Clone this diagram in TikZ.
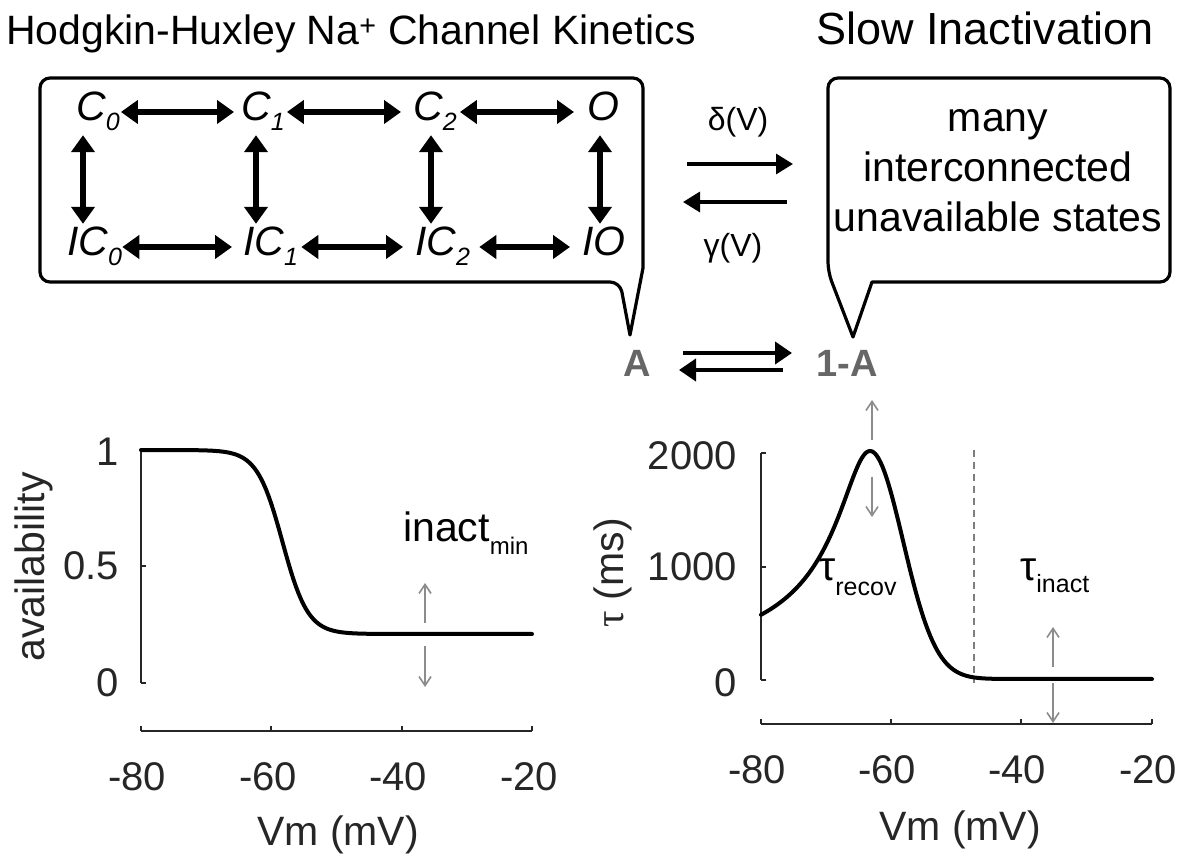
\documentclass[tikz,border=0pt]{standalone}
\usepackage{fontspec}
\setmainfont{Liberation Sans}
\newfontfamily\serifg{Liberation Serif}
\usetikzlibrary{arrows.meta}
\definecolor{axc}{HTML}{262626}
\definecolor{grayarr}{HTML}{8C8C8C}
\definecolor{Agray}{HTML}{666666}
\newcommand{\fs}[1]{\fontsize{#1}{#1}\selectfont}
\newcommand{\isub}[1]{\raisebox{-10pt}{\fs{25}#1}}
\begin{document}
\begin{tikzpicture}[x=1pt,y=-1pt,
  dbl/.style={line width=5.5pt,{Triangle[length=17pt,width=23pt]}-{Triangle[length=17pt,width=23pt]}},
  rx/.style={line width=3.3pt,-{Triangle[length=17pt,width=20pt]}},
  ax2/.style={line width=4pt,-{Triangle[length=17pt,width=22pt]}},
  st/.style={font=\fs{41}\itshape, inner sep=2pt, anchor=base west, text height=30pt, text depth=12pt},
  bubble/.style={line width=3.2pt, draw=black, line join=round},
  ax/.style={line width=1.3pt, draw=axc},
  tl/.style={font=\fs{40}, text=axc, inner sep=0pt},
  lbl/.style={font=\fs{41}, text=axc, inner sep=0pt},
  ga/.style={line width=1.6pt, draw=grayarr, -{Straight Barb[length=9pt,width=12pt]}},
  curve/.style={line width=4pt, line join=round, line cap=round}
]
\useasboundingbox (0,0) rectangle (1179,866);

% titles
\node[font=\fs{41}, anchor=base, inner sep=0pt] (t1) at (351,45) {Hodgkin-Huxley Na\textsuperscript{+} Channel Kinetics};
\node[font=\fs{45}, anchor=base, inner sep=0pt] (t2) at (985,45) {Slow Inactivation};

% bubbles
\draw[bubble] (630,335) -- (643,268) [rounded corners=10pt] -- (643,78) -- (40,78) -- (40,282) -- (620,282) [sharp corners] -- cycle;
\draw[bubble] (853,337) -- (872,282) [rounded corners=10pt] -- (1170,282) -- (1170,78) -- (828,78) -- (828,272) [sharp corners] -- cycle;

% states
\node[st] (C0) at (74,121) {C\isub{0}};
\node[st] (C1) at (239,121) {C\isub{1}};
\node[st] (C2) at (411,121) {C\isub{2}};
\node[st] (O) at (585,121) {O};
\node[st] (IC0) at (65,256) {IC\isub{0}};
\node[st] (IC1) at (241,256) {IC\isub{1}};
\node[st] (IC2) at (413,256) {IC\isub{2}};
\node[st] (IO) at (580,256) {IO};

\draw[dbl, shorten <=-1pt, shorten >=5pt] (C0) -- (C1);
\draw[dbl, shorten <=0pt, shorten >=10pt] (C1) -- (C2);
\draw[dbl, shorten <=1pt, shorten >=11pt] (C2) -- (O);
\draw[dbl, shorten <=-2pt, shorten >=9pt] (IC0) -- (IC1);
\draw[dbl, shorten <=1pt, shorten >=10pt] (IC1) -- (IC2);
\draw[dbl, shorten <=7pt, shorten >=10pt] (IC2) -- (IO);
\draw[dbl] ([xshift=9pt]C0.south west) -- ([xshift=9pt]C0.south west |- IC0.north);
\draw[dbl] ([xshift=17pt]C1.south west) -- ([xshift=17pt]C1.south west |- IC1.north);
\draw[dbl] ([xshift=20pt]C2.south west) -- ([xshift=20pt]C2.south west |- IC2.north);
\draw[dbl] ([xshift=15pt]O.south west) -- ([xshift=15pt]O.south west |- IO.north);

% slow inactivation text
\node[font=\fs{41}, anchor=base, inner sep=0pt] (m1) at (998,132) {many};
\node[font=\fs{41}, anchor=base, inner sep=0pt] (m2) at (998,182) {interconnected};
\node[font=\fs{41}, anchor=base, inner sep=0pt] (m3) at (998,232) {unavailable states};

% rates
\node[font=\fs{32}, inner sep=0pt] (dl) at (738,122) {δ(V)};
\node[font=\fs{32}, inner sep=0pt] (gl) at (733,248) {γ(V)};
\coordinate (d1) at (687,164); \coordinate (d2) at (793,164);
\coordinate (g1) at (787,202); \coordinate (g2) at (683,202);
\draw[rx] (d1) -- (d2);
\draw[rx] (g1) -- (g2);

% A <-> 1-A
\node[font=\fs{38}\bfseries, text=Agray, anchor=base, inner sep=0pt] (A) at (637,377) {A};
\node[font=\fs{38}\bfseries, text=Agray, anchor=base, inner sep=0pt] (nA) at (847,377) {1-A};
\coordinate (a1) at (683,353); \coordinate (a2) at (792,353);
\coordinate (b1) at (783,370); \coordinate (b2) at (679,370);
\draw[ax2] (a1) -- (a2);
\draw[ax2] (b1) -- (b2);

% ---------- plot 1 ----------
\draw[ax] (141,449) -- (141,683);
\foreach \yy in {449,566,683} \draw[ax] (141,\yy) -- ++(5,0);
\draw[ax] (141,731) -- (532,731);
\foreach \xx in {141,271,402,532} \draw[ax] (\xx,731) -- ++(0,-5);
\node[tl, anchor=east] (y1a) at (119,452) {1};
\node[tl, anchor=east] (y1b) at (119,566) {0.5};
\node[tl, anchor=east] (y1c) at (119,683) {0};
\node[tl, anchor=base] (x1a) at (137,790) {-80};
\node[tl, anchor=base] (x1b) at (268,790) {-60};
\node[tl, anchor=base] (x1c) at (398,790) {-40};
\node[tl, anchor=base] (x1d) at (529,790) {-20};
\node[lbl, anchor=base] (xl1) at (338,845) {Vm (mV)};
\node[lbl, rotate=90] (yl1) at (34,567) {availability};
\draw[curve] plot[domain=141:532, samples=160] (\x, {634-184/(1+exp(max(-9,min(9,(\x-282.5)/12.7))))});
\node[font=\fs{41}, anchor=base west, inner sep=0pt] (inm) at (403,542) {inact\raisebox{-13pt}{\fs{24}min}};
\coordinate (p1a) at (425,623); \coordinate (p1b) at (425,583);
\coordinate (p1c) at (425,646); \coordinate (p1d) at (425,687);
\draw[ga] (p1a) -- (p1b);
\draw[ga] (p1c) -- (p1d);

% ---------- plot 2 ----------
\draw[ax] (761,453) -- (761,680);
\foreach \yy in {453,567,680} \draw[ax] (761,\yy) -- ++(5,0);
\draw[ax] (761,724) -- (1152,724);
\foreach \xx in {761,891,1021,1152} \draw[ax] (\xx,724) -- ++(0,-5);
\node[tl, anchor=east] (y2a) at (737,456) {2000};
\node[tl, anchor=east] (y2b) at (737,567) {1000};
\node[tl, anchor=east] (y2c) at (737,683) {0};
\node[tl, anchor=base] (x2a) at (757,783) {-80};
\node[tl, anchor=base] (x2b) at (887,783) {-60};
\node[tl, anchor=base] (x2c) at (1017,783) {-40};
\node[tl, anchor=base] (x2d) at (1148,783) {-20};
\node[lbl, anchor=base] (xl2) at (960,840) {Vm (mV)};
\node[lbl, rotate=90] (yl2) at (613,573) {{\serifg τ} (ms)};
\draw[grayarr!90!black, line width=1.3pt, dash pattern=on 7pt off 5pt] (974,450) -- (974,683);
\draw[curve] plot[domain=761:870, samples=80] (\x, {679-228/sqrt(1+((870-\x)/32)^2)})
  -- plot[domain=870:1152, samples=160] (\x, {679-228*exp(max(-12,-((\x-870)/33)^2/2))});
\node[font=\fs{41}, anchor=base west, inner sep=0pt] (tr) at (819,580) {τ\raisebox{-15pt}{\fs{25}recov}};
\node[font=\fs{41}, anchor=base west, inner sep=0pt] (ti) at (1020,580) {τ\raisebox{-12pt}{\fs{25}inact}};
\coordinate (p2a) at (872,440); \coordinate (p2b) at (872,400);
\coordinate (p2c) at (872,477); \coordinate (p2d) at (872,517);
\coordinate (p3a) at (1053,667); \coordinate (p3b) at (1053,627);
\coordinate (p3c) at (1053,683); \coordinate (p3d) at (1053,723);
\draw[ga] (p2a) -- (p2b);
\draw[ga] (p2c) -- (p2d);
\draw[ga] (p3a) -- (p3b);
\draw[ga] (p3c) -- (p3d);
\end{tikzpicture}
\end{document}
